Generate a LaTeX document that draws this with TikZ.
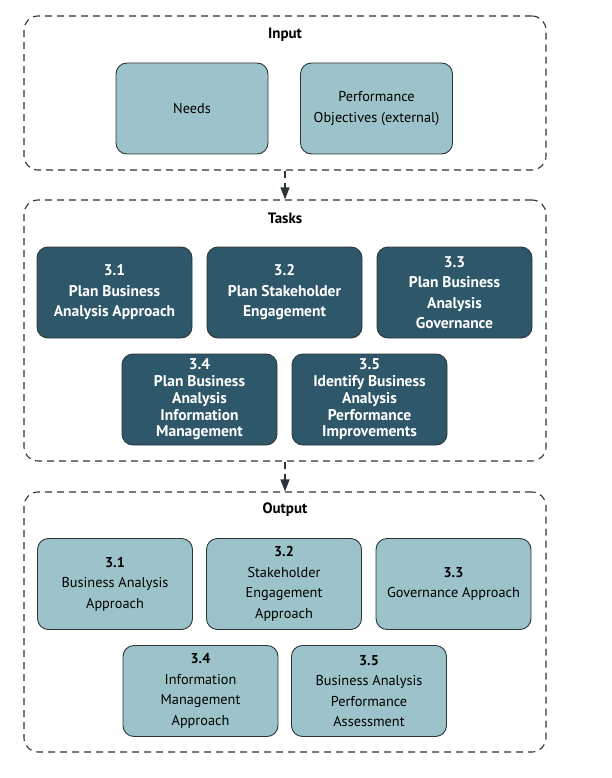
\documentclass[tikz,border=0pt]{standalone}
\usepackage{fontspec}
\setmainfont{PT Sans}
\usetikzlibrary{arrows.meta}
\definecolor{taskfill}{RGB}{46,88,105}
\definecolor{itemfill}{RGB}{156,195,201}
\definecolor{edgegray}{RGB}{45,52,56}
\tikzstyle{group}=[draw=edgegray, dash pattern=on 7pt off 5pt, line width=1.1pt, rounded corners=14pt, minimum width=522pt, inner sep=0pt]
\tikzstyle{title}=[font=\fontsize{15}{17}\selectfont\bfseries, text=black]
\tikzstyle{task}=[draw=edgegray, fill=taskfill, text=white, line width=0.9pt, rounded corners=11pt, minimum width=155pt, minimum height=91pt, inner sep=2pt, align=center, font=\fontsize{15.5}{20.5}\selectfont\bfseries]
\tikzstyle{item}=[task, fill=itemfill, text=black, font=\fontsize{14.3}{20.5}\selectfont]

\tikzstyle{flow}=[draw=edgegray, line width=1.1pt, dash pattern=on 7pt off 5pt, -{Triangle[length=12pt,width=9pt]}]

\begin{document}
\begin{tikzpicture}[x=1pt, y=-1pt]
            \useasboundingbox (0,0) rectangle (611,778);

            % input
            \node[group, minimum height=154pt] (input) at (285,93) {};
            \node[title] (inputtitle) at (285,35) {Input};
            \node[item, minimum width=152pt] (needs) at (192,108.5) {Needs};
            \node[item, minimum width=152pt] (objectives) at (376.5,108.5) {Performance\\Objectives (external)};

            % tasks
            \node[group, minimum height=261pt] (tasks) at (285,330.5) {};
            \node[title] (taskstitle) at (285,218) {Tasks};
            \node[task] (plan) at (114.5,292.5) {3.1\\Plan Business\\Analysis Approach};
            \node[task] (stakeholder) at (284.5,292.5) {3.2\\Plan Stakeholder\\Engagement};
            \node[task] (governance) at (454.5,292.5) {3.3\\Plan Business\\Analysis\\Governance};
            \node[task, font=\fontsize{15.5}{16.7}\selectfont\bfseries] (information) at (199.5,399.5)
                {3.4\\Plan Business\\Analysis\\Information\\Management};
            \node[task, font=\fontsize{15.5}{16.7}\selectfont\bfseries] (performance) at (369.5,399.5)
                {3.5\\Identify Business\\Analysis\\Performance\\Improvements};

            % output
            \node[group, minimum height=260pt] (output) at (285,622) {};
            \node[title] (outputtitle) at (285,510) {Output};
            \node[item] (approach) at (115,584) {\textbf{3.1}\\Business Analysis\\Approach};
            \node[item] (engagement) at (284,584) {\textbf{3.2}\\Stakeholder\\Engagement\\Approach};
            \node[item] (govapproach) at (453.5,584) {\textbf{3.3}\\Governance Approach};
            \node[item] (infoapproach) at (200.5,691) {\textbf{3.4}\\Information\\Management\\Approach};
            \node[item] (assessment) at (369,691) {\textbf{3.5}\\Business Analysis\\Performance\\Assessment};

            \draw[flow] (input.south) -- (tasks.north);
            \draw[flow] (tasks.south) -- (output.north);
        \end{tikzpicture}
\end{document}
